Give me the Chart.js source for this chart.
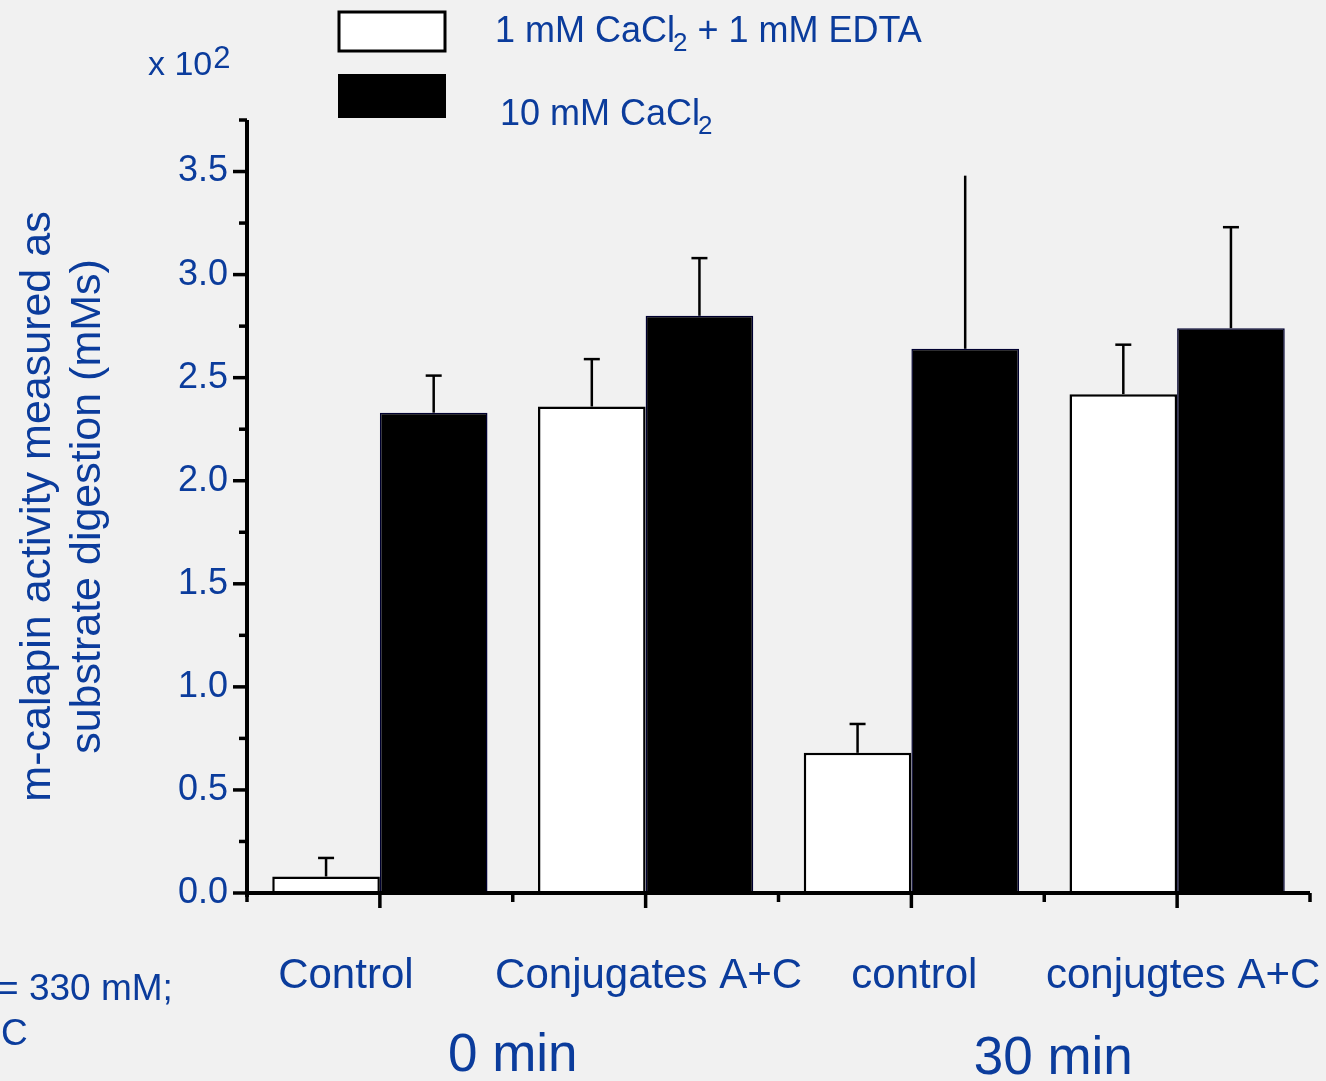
<!DOCTYPE html>
<html><head><meta charset="utf-8">
<script src="https://cdn.jsdelivr.net/npm/chart.js@4.4.1/dist/chart.umd.min.js"></script>
<style>html,body{margin:0;padding:0;background:#f1f1f1;overflow:hidden}canvas{display:block}</style>
</head><body>
<canvas id="c" width="1326" height="1081"></canvas>
<script>
// ---- data ----
const categories = ['Control', 'Conjugates A+C', 'control', 'conjugtes A+C'];
const timeGroups = ['0 min', '30 min'];
const edtaValues = [0.08, 2.36, 0.68, 2.42];
const edtaErrors = [0.09, 0.23, 0.14, 0.24];
const caValues = [2.33, 2.80, 2.64, 2.74];
const caErrors = [0.18, 0.28, 0.84, 0.49];
const edtaLegend = ['1 mM CaCl', '2', ' + 1 mM EDTA'];
const caLegend = ['10 mM CaCl', '2', ''];
const yTitleLines = ['m-calapin activity measured as', 'substrate digestion (mMs)'];
const yMultiplier = ['x 10', '2'];
const sideNote = ['= 330 mM;', 'C'];

// ---- style ----
const FONT = "'Liberation Sans', Arial, Helvetica, sans-serif";
const BLUE = '#0b3c9c';
const catLabelShift = [-34, 3, 3, 6];
const timeLabelShift = [0, 9];

const decor = {
  id: 'decor',
  beforeDraw(chart) {
    const ctx = chart.ctx;
    ctx.save();
    ctx.fillStyle = '#f1f1f1';
    ctx.fillRect(0, 0, chart.width, chart.height);
    ctx.restore();
  },
  afterDatasetsDraw(chart) {
    const ctx = chart.ctx;
    const ys = chart.scales.y, xs = chart.scales.x;
    const area = chart.chartArea;
    ctx.save();
    // error bars
    const errs = [edtaErrors, caErrors];
    chart.data.datasets.forEach((ds, di) => {
      const meta = chart.getDatasetMeta(di);
      meta.data.forEach((bar, i) => {
        const v = ds.data[i], e = errs[di][i];
        const yTop = ys.getPixelForValue(v + e);
        ctx.strokeStyle = '#000';
        ctx.lineWidth = 2.5;
        ctx.beginPath();
        ctx.moveTo(bar.x, bar.y);
        ctx.lineTo(bar.x, yTop);
        ctx.stroke();
        if (!(di === 1 && i === 2)) {
          ctx.beginPath();
          ctx.moveTo(bar.x - 8, yTop);
          ctx.lineTo(bar.x + 8, yTop);
          ctx.stroke();
        }
      });
    });
    // axes
    ctx.strokeStyle = '#000';
    ctx.lineWidth = 4;
    ctx.beginPath();
    ctx.moveTo(area.left, area.top);
    ctx.lineTo(area.left, area.bottom + 4);
    ctx.moveTo(area.left - 2, area.bottom);
    ctx.lineTo(area.right, area.bottom);
    ctx.stroke();
    // y ticks
    ctx.lineWidth = 3.5;
    for (let k = 0; k <= 15; k++) {
      const v = k * 0.25;
      const y = ys.getPixelForValue(v);
      const len = (k % 2 === 0) ? 14 : 8;
      ctx.beginPath();
      ctx.moveTo(area.left - len, y);
      ctx.lineTo(area.left, y);
      ctx.stroke();
    }
    // x ticks
    for (let k = 0; k <= 8; k++) {
      const v = -0.5 + k * 0.5;
      const x = xs.getPixelForValue(v);
      const major = (k % 2 === 1);
      ctx.beginPath();
      ctx.moveTo(x, area.bottom);
      ctx.lineTo(x, area.bottom + (major ? 15 : 9));
      ctx.stroke();
    }
    ctx.restore();
  },
  afterDraw(chart) {
    const ctx = chart.ctx;
    const xs = chart.scales.x;
    ctx.save();
    ctx.fillStyle = BLUE;
    ctx.textBaseline = 'alphabetic';
    // category labels
    ctx.font = '42px ' + FONT;
    ctx.textAlign = 'center';
    categories.forEach((c, i) => {
      ctx.fillText(c, xs.getPixelForValue(i) + catLabelShift[i], 988);
    });
    // time group labels
    ctx.font = '53px ' + FONT;
    timeGroups.forEach((t, g) => {
      const x = (xs.getPixelForValue(2 * g) + xs.getPixelForValue(2 * g + 1)) / 2 + timeLabelShift[g];
      ctx.fillText(t, x, 1071 + g * 3);
    });
    // side note (cut at left edge)
    ctx.textAlign = 'left';
    ctx.font = '37px ' + FONT;
    ctx.fillText(sideNote[0], -3, 1000);
    ctx.fillText(sideNote[1], 1, 1045);
    // multiplier
    ctx.font = '34px ' + FONT;
    ctx.fillText(yMultiplier[0], 148, 75);
    const w0 = ctx.measureText(yMultiplier[0]).width;
    ctx.font = '31px ' + FONT;
    ctx.fillText(yMultiplier[1], 148 + w0 + 1, 68);
    // legend boxes
    ctx.fillStyle = '#fff';
    ctx.fillRect(339, 12, 106, 39);
    ctx.strokeStyle = '#000';
    ctx.lineWidth = 3;
    ctx.strokeRect(339, 12, 106, 39);
    ctx.fillStyle = '#000';
    ctx.fillRect(338, 74, 108, 44);
    // legend text
    const drawSub = (parts, x, y) => {
      ctx.fillStyle = BLUE;
      ctx.font = '36px ' + FONT;
      ctx.fillText(parts[0], x, y);
      let cx = x + ctx.measureText(parts[0]).width;
      ctx.font = '26px ' + FONT;
      ctx.fillText(parts[1], cx - 2, y + 9);
      cx += ctx.measureText(parts[1]).width - 2;
      ctx.font = '36px ' + FONT;
      ctx.fillText(parts[2], cx, y);
    };
    drawSub(edtaLegend, 495, 42);
    drawSub(caLegend, 500, 125);
    ctx.restore();
  }
};

new Chart(document.getElementById('c'), {
  type: 'bar',
  data: {
    labels: categories,
    datasets: [
      {
        label: edtaLegend.join(''),
        data: edtaValues,
        backgroundColor: '#ffffff',
        borderColor: '#000000',
        borderWidth: 2.5,
        categoryPercentage: 0.81,
        barPercentage: 1.0
      },
      {
        label: caLegend.join(''),
        data: caValues,
        backgroundColor: '#000000',
        borderColor: '#000030',
        borderWidth: 1.5,
        categoryPercentage: 0.81,
        barPercentage: 1.0
      }
    ]
  },
  options: {
    responsive: false,
    animation: false,
    devicePixelRatio: 1,
    layout: { padding: { left: 0, top: 120, right: 16, bottom: 188 } },
    plugins: { legend: { display: false }, tooltip: { enabled: false }, title: { display: false } },
    scales: {
      x: {
        type: 'category',
        offset: true,
        grid: { display: false, drawTicks: false },
        border: { display: false },
        ticks: { display: false },
        afterFit: s => { s.height = 0; }
      },
      y: {
        min: 0,
        max: 3.75,
        grid: { display: false, drawTicks: false, tickLength: 0 },
        border: { display: false },
        ticks: {
          stepSize: 0.5,
          includeBounds: false,
          padding: 19,
          color: BLUE,
          font: { family: FONT, size: 36 },
          callback: v => Number(v).toFixed(1)
        },
        title: {
          display: true,
          text: yTitleLines,
          color: BLUE,
          font: { family: FONT, size: 43, lineHeight: 1.163 },
          padding: { top: 13, bottom: 0 }
        },
        afterFit: s => { s.width = 247; }
      }
    }
  },
  plugins: [decor]
});
</script>
</body></html>
